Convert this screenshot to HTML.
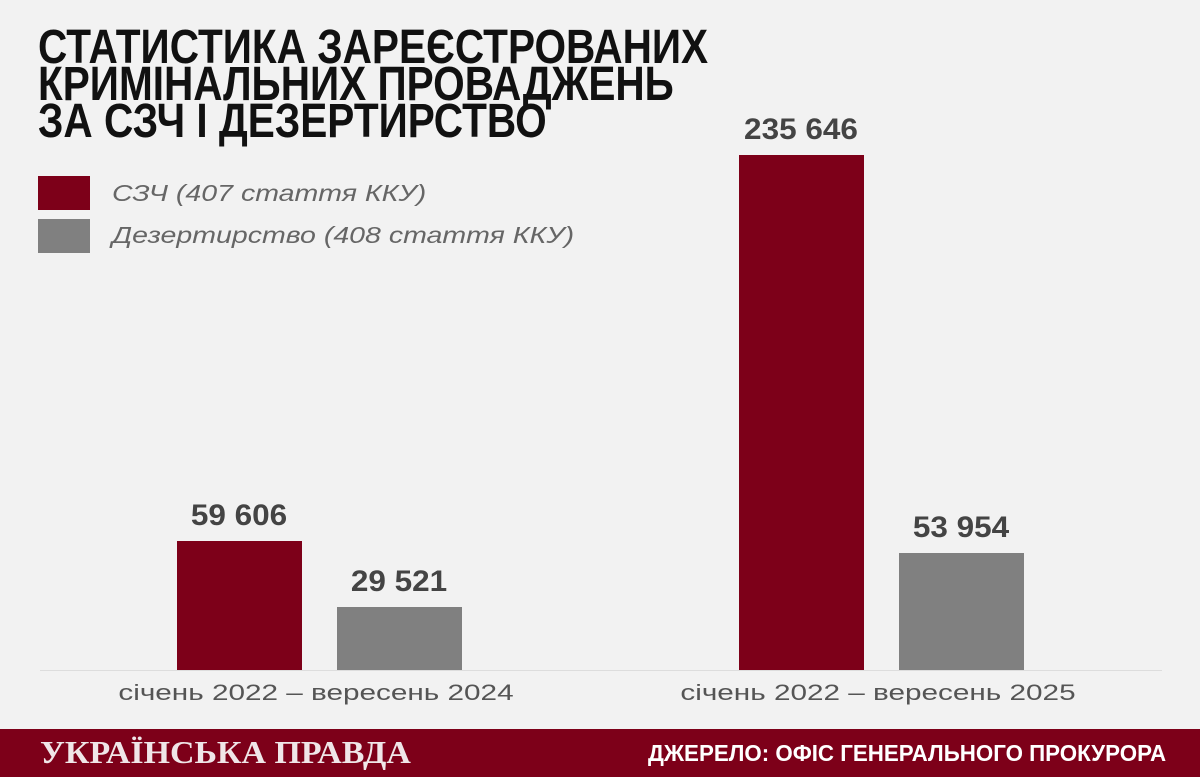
<!DOCTYPE html>
<html><head><meta charset="utf-8"><style>
body{margin:0;width:1200px;height:777px;background:#f2f2f2;position:relative;overflow:hidden;font-family:"Liberation Sans",sans-serif}
.a{position:absolute}
.t{left:38px;font-family:"Liberation Sans Narrow","Liberation Sans",sans-serif;font-weight:bold;font-size:48px;line-height:37px;color:#111;transform-origin:0 0;white-space:nowrap}
.v{position:absolute;width:200px;text-align:center;font-weight:bold;font-size:30px;color:#444;transform:scaleX(1.05)}
.l{position:absolute;width:500px;text-align:center;font-size:22px;color:#555;transform:scaleX(1.35)}
.lg{position:absolute;left:112px;font-style:italic;font-size:23px;color:#666;transform:scaleX(1.24);transform-origin:0 0;white-space:nowrap}
</style></head><body>
<div class="a t" style="top:29px;transform:scaleX(0.845)">СТАТИСТИКА ЗАРЕЄСТРОВАНИХ<br>КРИМІНАЛЬНИХ ПРОВАДЖЕНЬ<br>ЗА СЗЧ І ДЕЗЕРТИРСТВО</div>
<div class="a" style="left:38px;top:176px;width:52px;height:34px;background:#7d0019"></div>
<div class="a" style="left:38px;top:219px;width:52px;height:34px;background:#808080"></div>
<div class="lg" style="top:180px">СЗЧ (407 стаття ККУ)</div>
<div class="lg" style="top:222px">Дезертирство (408 стаття ККУ)</div>
<div class="a" style="left:40px;top:670px;width:1122px;height:1px;background:#ddd"></div>
<div class="a" style="left:177px;top:541px;width:125px;height:129px;background:#7d0019"></div>
<div class="a" style="left:337px;top:607px;width:125px;height:63px;background:#808080"></div>
<div class="a" style="left:739px;top:155px;width:125px;height:515px;background:#7d0019"></div>
<div class="a" style="left:899px;top:553px;width:125px;height:117px;background:#808080"></div>
<div class="v" style="left:139px;top:499px">59 606</div>
<div class="v" style="left:299px;top:565px">29 521</div>
<div class="v" style="left:701px;top:113px">235 646</div>
<div class="v" style="left:861px;top:511px">53 954</div>
<div class="l" style="left:66px;top:680px">січень 2022 – вересень 2024</div>
<div class="l" style="left:628px;top:680px">січень 2022 – вересень 2025</div>
<div class="a" style="left:0;top:729px;width:1200px;height:48px;background:#7d0019"></div>
<div class="a" style="left:40px;top:734px;font-family:'Liberation Serif',serif;font-weight:bold;font-size:32px;color:#f0e6e8;transform:scaleX(1.06);transform-origin:0 0;white-space:nowrap">УКРАЇНСЬКА ПРАВДА</div>
<div class="a" style="left:648px;top:740px;font-family:'Liberation Sans Narrow','Liberation Sans',sans-serif;font-weight:bold;font-size:23px;color:#fff;white-space:nowrap;transform:scaleX(0.97);transform-origin:0 0">ДЖЕРЕЛО: ОФІС ГЕНЕРАЛЬНОГО ПРОКУРОРА</div>
</body></html>
